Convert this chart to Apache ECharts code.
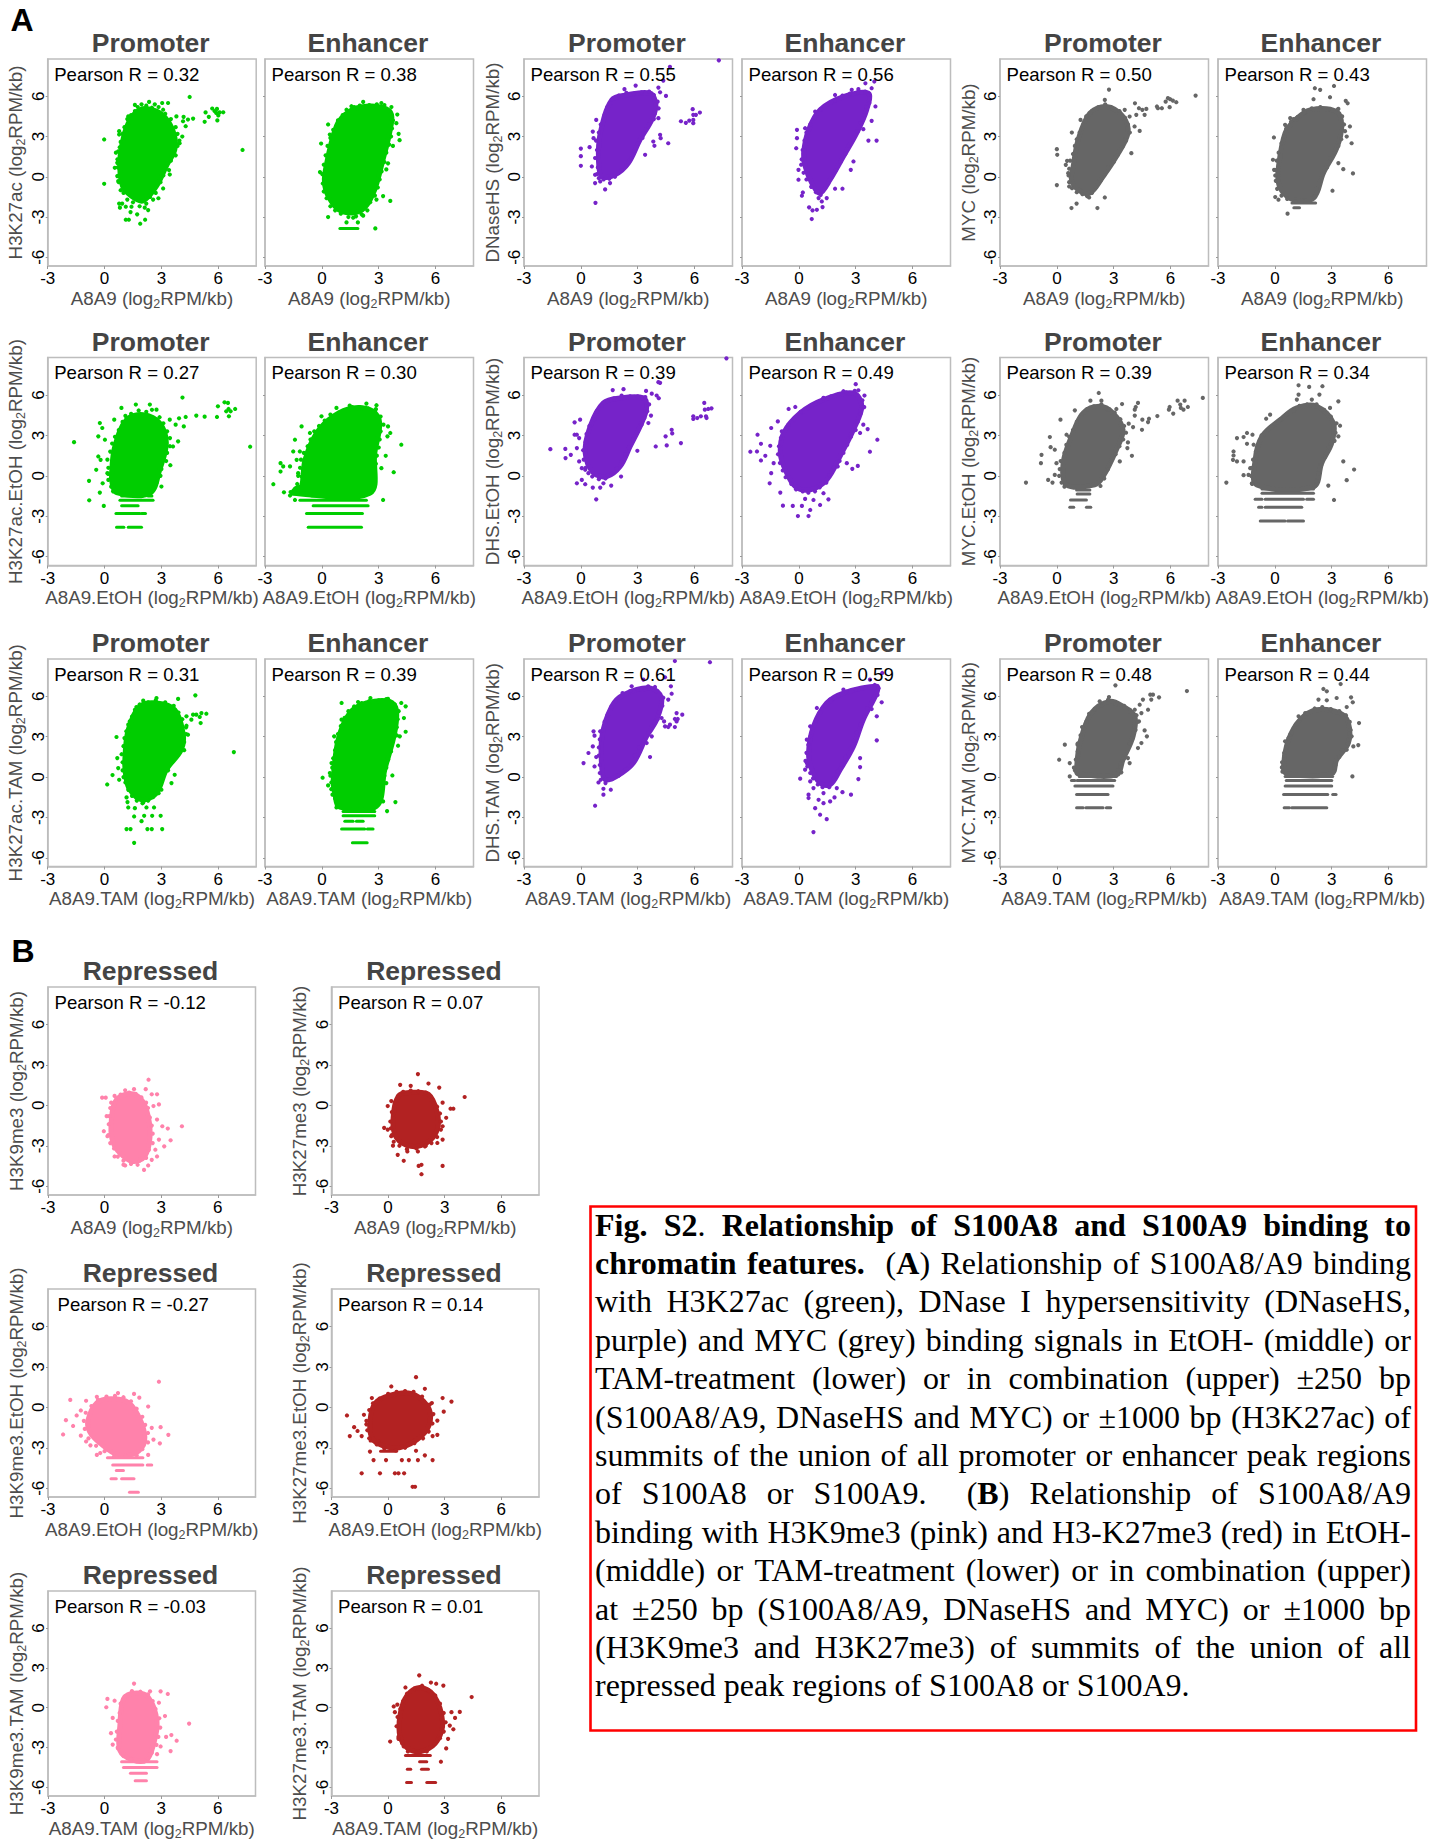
<!DOCTYPE html>
<html><head><meta charset="utf-8">
<style>html,body{margin:0;padding:0;background:#fff}#c{width:1441px;height:1841px}</style>
<script src="https://cdn.jsdelivr.net/npm/echarts@6/dist/echarts.min.js"></script>
</head><body><div id="c"></div>
<script>
// ---------- axis values ----------
const xTicks = [-3, 0, 3, 6];
const yTicks = [-6, -3, 0, 3, 6];
const xRange = [-3, 8];
const yRange = [-6.65, 8.78];

// ---------- panel A, row 1 ----------
const cloudA1 = [[1.86,5],[2.74,4.9],[3.35,4.15],[3.7,3],[3.7,2],[3.26,.8],[2.74,-.7],[2.03,-1.8],[1.42,-1.45],[.95,-.7],[.8,.8],[.9,2.3],[1.25,4]];
const edgeA1 = [[.85,2.6],[.95,3.2],[1.05,3.7],[1.2,4.3],[1.4,4.6],[1.6,4.9],[1.75,5.2],[2.2,5.3],[2.5,5.15],[2.85,5.2],[3.2,4.7],[3.5,4.3],[3.75,3.7],[3.85,3.2],[3.95,2.7],[3.85,2.3],[3.75,1.6],[3.5,1.2],[3.4,.5],[3.1,.1],[2.95,-.4],[2.7,-1.2],[2.4,-1.5],[2.2,-2],[1.85,-2.2],[1.5,-1.9],[1.2,-1.7],[1,-1.2],[.85,-1],[.75,-.4],[.75,.1],[.7,.7],[.68,1.3],[.72,1.9],[.8,2.2]];
const dotsA1 = [[4.49,5.95],[-.02,2.78],[-.02,-.52],[7.28,2],[5.28,4.1],[5.33,4.8],[5.5,4.47],[5.68,5.09],[5.93,5.06],[5.89,4.76],[6,4.57],[6.26,4.81],[5.95,4.2],[5.8,4.9],[6.07,4.8],[4.67,4.34],[4.4,4.27],[4.14,4.14],[4.28,3.77],[3.79,4.5],[4.17,4.47],[4.1,3],[3.96,2.5],[2.35,5.58],[3.04,5.5],[3.35,5.5],[1.6,5.36],[1.95,5.4],[2.65,5.4],[3.09,5],[1.25,4.5],[.77,3.4],[.77,3.15],[.6,1.8],[.54,.67],[.67,1.04],[.72,-.32],[.67,.05],[.77,-2],[.93,-2],[.81,-2.3],[1.12,-2.23],[1.42,-2.23],[1.12,-3.2],[1.28,-3.2],[1.88,-3.5],[2.14,-3.2],[1.72,-2.8],[1.37,-2.63],[2.12,-2.3],[2.3,-2.48],[2.56,-1.7],[2.84,-1.6],[3.09,-.87],[3.44,.17]];
const bandsA1 = [];
const cloudA2 = [[.16,.3],[.77,3.8],[1.47,4.9],[2.35,5.25],[3.23,5.15],[3.67,4.65],[3.58,3.3],[3.23,1.3],[2.79,-.95],[2.26,-2.3],[1.65,-2.7],[.86,-2.43],[.33,-1.44],[.16,-.7]];
const edgeA2 = [[.1,.9],[.2,1.6],[.3,2.3],[.45,2.9],[.6,3.5],[.85,4.2],[1.1,4.6],[1.3,5],[1.7,5.2],[2,5.3],[2.5,5.35],[2.9,5.4],[3.3,5.35],[3.6,4.9],[3.75,4.2],[3.7,3.6],[3.65,3],[3.55,2.4],[3.4,1.8],[3.3,1.1],[3.15,.4],[3.05,-.2],[2.95,-.8],[2.8,-1.4],[2.55,-1.9],[2.4,-2.5],[2.1,-2.8],[1.8,-2.95],[1.4,-3],[1,-2.75],[.7,-2.5],[.45,-2.2],[.25,-1.6],[.1,-1.1],[.05,-.5],[.02,.2]];
const dotsA2 = [[-.04,2.48],[-.1,.35],[.33,3.9],[.42,3.15],[.33,-3],[2.82,-3.85],[3.61,-1.8],[3.23,-1.44],[4.1,2.73],[4.05,3.2],[3.93,4],[3.98,4.64],[2.18,5.58],[3.14,5.5],[3.67,5.2],[1.56,5.26],[1.65,-3.05],[1.3,-3.4],[2.18,-2.9],[1.9,-3.4],[2.88,-1.7],[3.4,.55],[3.49,1],[3.75,2.3]];
const bandsA2 = [[-3.85,.95,1.9]];
const cloudA3 = [[.93,1.27],[1.02,3.25],[1.63,5.73],[2.42,6.1],[3.65,6.23],[3.96,5.36],[3.74,4.24],[3.12,2.75],[2.51,1.02],[1.81,.15],[1.1,.02]];
const edgeA3 = [[.9,.7],[.75,1.4],[.85,2],[.8,2.7],[.95,3.3],[1.05,3.9],[1.25,4.6],[1.4,5.2],[1.65,5.75],[2,6.05],[2.4,6.25],[2.8,6.2],[3.2,6.3],[3.6,6.35],[3.85,6.1],[4.05,5.6],[4.1,5.1],[3.9,4.7],[3.85,4.3],[3.6,3.9],[3.4,3.5],[3.25,2.9],[3,2.5],[2.8,1.9],[2.65,1.4],[2.4,.85],[2.15,.5],[1.8,0],[1.5,-.15],[1.2,-.2],[.95,-.1],[.85,.2]];
const dotsA3 = [[0,2.1],[0,1.54],[0,.82],[.77,-1.94],[1.28,-.94],[.75,-.47],[1.02,-.35],[1.54,-.47],[7.28,8.68],[4.7,8.2],[4.35,7.17],[4.09,6.65],[4.49,6.03],[4.18,6.3],[2.89,6.8],[2.3,6.53],[5.28,4.14],[5.54,4.02],[5.72,4.19],[5.9,5.04],[5.93,4.24],[5.93,4],[6.07,4.62],[6.28,4.79],[5.93,4.62],[4.61,2.5],[4.18,3.13],[4.21,2.88],[3.82,2.63],[3.88,2.31],[3.39,1.64],[.81,4.24],[.63,3.37],[.67,2.88],[.46,2.21],[.58,.77],[.75,.15],[4.09,4.37]];
const bandsA3 = [];
const cloudA4 = [[.25,1.76],[.51,3.5],[1.12,5],[2.35,5.98],[3.67,6.23],[3.58,5],[3.05,3.25],[2.35,1.51],[1.65,-.22],[1.12,-1.22],[.68,-.47],[.33,.77]];
const edgeA4 = [[.15,1.3],[.2,2],[.3,2.7],[.4,3.3],[.6,3.9],[.85,4.4],[1.15,5.05],[1.5,5.4],[1.9,5.7],[2.3,6.05],[2.7,6.2],[3.1,6.3],[3.5,6.35],[3.7,6.1],[3.72,5.5],[3.55,5.2],[3.45,4.6],[3.25,4],[3.1,3.4],[2.85,2.9],[2.6,2.3],[2.45,1.7],[2.2,1.1],[1.95,.5],[1.75,0],[1.55,-.5],[1.35,-.9],[1.15,-1.35],[.9,-1.15],[.65,-.75],[.4,-.2],[.25,.3],[.12,.9]];
const dotsA4 = [[3.51,6.97],[3.98,7.1],[3.84,6.6],[4.04,5.24],[3.84,4.17],[4.1,2.7],[3.67,2.7],[3.4,3.55],[2.88,1.14],[2.74,.52],[2.3,-.89],[1.91,-.89],[1.25,-2.26],[1.21,-1.84],[1.04,-1.59],[1.47,-1.59],[.68,-3.15],[.72,-2.5],[.95,-2.46],[.54,-2.28],[.16,-1.41],[.21,-1.17],[-.02,-.22],[-.02,.52],[-.14,2.13],[-.1,2.88],[-.1,3.5],[.33,3.62],[.86,4.86],[1.91,6.1],[2.79,6.48],[3.14,6.53]];
const bandsA4 = [];
const cloudA5 = [[.86,.77],[1.12,2.75],[1.74,4.74],[2.61,5.24],[3.49,4.49],[3.75,3.25],[3.14,1.51],[2.44,.02],[1.74,-1.22],[1.12,-.97],[.77,-.22]];
const edgeA5 = [[.65,.6],[.7,1.2],[.85,1.7],[.95,2.3],[1.05,2.8],[1.2,3.3],[1.4,3.9],[1.55,4.5],[1.85,4.9],[2.2,5.2],[2.55,5.4],[2.9,5.15],[3.3,4.9],[3.6,4.4],[3.75,3.9],[3.85,3.3],[3.65,2.7],[3.45,2.2],[3.2,1.6],[3,1.1],[2.7,.7],[2.5,.1],[2.3,-.3],[2.05,-.8],[1.85,-1.2],[1.6,-1.45],[1.35,-1.3],[1.05,-1.15],[.8,-.85],[.65,-.4],[.62,.1]];
const dotsA5 = [[0,2.06],[.02,1.64],[0,-.62],[.77,-2.33],[1.04,-2],[2.14,-2.33],[2.53,-1.54],[1.7,-1.54],[2.75,6.5],[2.53,5.73],[1.25,4.24],[.79,3.3],[.54,1.19],[.47,.89],[.6,.27],[.65,-.72],[7.32,6.05],[5.86,5.86],[5.98,5.78],[5.74,5.6],[6.3,5.56],[6.12,5.68],[5.95,5.19],[5.28,5.24],[5.54,5.11],[5.33,5.11],[4.72,5.06],[4.33,5.11],[4.51,4.99],[4.12,5.48],[4.19,4.62],[4.63,4.62],[4.37,3.42],[4.1,3.75],[3.93,1.76],[3.58,4.99],[3.84,4.49]];
const bandsA5 = [];
const cloudA6 = [[.19,.77],[.54,3.25],[1.07,4.24],[1.86,4.99],[3.26,4.86],[3.53,3.75],[3.26,2.13],[2.56,.27],[2.04,-1.59],[.98,-1.71],[.46,-1.22],[.19,-.47]];
const edgeA6 = [[.05,.5],[.1,1.2],[.2,1.8],[.35,2.5],[.5,3],[.6,3.6],[.85,4.1],[1.2,4.45],[1.55,4.8],[1.95,5.1],[2.4,5.2],[2.85,5.05],[3.3,5],[3.55,4.5],[3.65,3.9],[3.7,3.4],[3.5,2.8],[3.35,2.3],[3.15,1.8],[2.9,1.4],[2.75,.7],[2.5,.2],[2.35,-.3],[2.2,-.9],[2.1,-1.5],[1.6,-1.8],[1.1,-1.85],[.65,-1.65],[.35,-1.4],[.12,-.9],[.05,-.3],[.02,.1]];
const dotsA6 = [[.67,-2.75],[.02,-1.51],[.19,-1.71],[-.05,2.93],[-.1,1.27],[-.04,.52],[4.12,.25],[3.04,-1.04],[3.61,.57],[3.35,1.02],[4.05,2.5],[3.96,3.75],[3.79,3],[3.74,5.66],[3.84,5.48],[3.35,5.06],[2.11,6.6],[2.39,6.48],[3.12,6.77],[2.91,5.93],[2.04,5.78],[1.51,4.99],[.81,4.37],[.54,3.87],[.98,4.3]];
const bandsA6 = [[-1.95,.9,2.15],[-2.3,1,1.3]];

// ---------- panel A, row 2 ----------
const cloudA7 = [[.37,.2],[.54,2.18],[1.16,4.17],[2.04,4.54],[2.91,3.92],[3.26,2.43],[2.91,.45],[2.39,-1.29],[.63,-1.24],[.4,-.55]];
const edgeA7 = [[.2,.6],[.15,1.2],[.3,1.8],[.4,2.4],[.55,2.9],[.75,3.4],[.95,4],[1.1,4.45],[1.4,4.6],[1.8,4.85],[2.2,4.75],[2.5,4.9],[2.9,4.35],[3.1,3.9],[3.3,3.3],[3.45,2.8],[3.45,2.2],[3.3,1.7],[3.25,1.1],[3,.5],[2.95,0],[2.75,-.5],[2.55,-1],[.45,-1.15],[.35,-.8],[.2,-.3],[.15,.2]];
const dotsA7 = [[-1.61,2.5],[7.68,2.16],[-.82,-.37],[-.81,-1.81],[-.04,-2.23],[-.25,-1.24],[-.1,-.55],[-.44,.45],[-.33,1.44],[-.21,1.19],[-.33,2.93],[-.25,3.92],[-.12,3.55],[.02,2.68],[.19,.15],[.51,4.17],[.89,5.04],[1.65,5.29],[2.39,5.29],[2.74,4.91],[4.11,5.81],[3.44,4.17],[3.75,3.8],[3.93,4.27],[4.28,4.37],[4.18,3.67],[4.84,4.47],[5.28,4.39],[5.93,4.37],[5.98,5.16],[6.33,5.46],[6.51,5.41],[6.54,4.96],[6.65,4.79],[6.89,4.96],[6.56,4.42],[6.42,4.79],[3.47,.79],[3.88,2.56],[3.61,2.18],[3,-.79]];
const bandsA7 = [[-1.49,.9,1.4],[-1.49,1.6,2],[-1.49,2.3,2.5],[-1.81,.81,2.56],[-2.21,.9,1.77],[-2.8,.6,1.86],[-2.8,1.95,2.16],[-2.8,2.47,2.47],[-3.82,.16,.16],[-3.82,.63,1.02],[-3.82,1.25,1.95]];
const cloudA8 = [[-1.07,-.79],[-.89,1.19],[-.28,3.18],[.6,4.42],[1.65,5.04],[2.7,4.79],[3.05,3.92],[2.79,1.69],[2.53,-1.29],[-1.51,-1.29],[-1.33,-.92]];
const edgeA8 = [[-1.3,-.6],[-1.25,0],[-1.15,.6],[-1.1,1.2],[-.95,1.7],[-.75,2.2],[-.6,2.7],[-.4,3.3],[-.15,3.7],[.15,4.1],[.45,4.55],[.9,4.7],[1.2,4.85],[1.6,5.1],[2,5.1],[2.45,5],[2.85,4.95],[3.1,4.4],[3.25,3.8],[3.1,3.3],[3.05,2.7],[3,2.1],[2.9,1.5],[2.85,.9],[2.75,.3],[2.65,-.3],[2.65,-.9],[-1.65,-1.2],[-1.4,-.95]];
const dotsA8 = [[-2.56,-.62],[-2.18,.94],[-2.04,.7],[-2.18,.32],[-1.68,.7],[-2,-1.22],[-1.68,-1.46],[-1.42,-1.79],[-1.51,1.81],[-1.42,2.68],[-1.16,1.81],[-1.07,3.67],[-.63,3.18],[-1.33,1.19],[-1.25,.2],[-1.07,-.05],[-.02,4.42],[.77,5.04],[1.47,5.21],[2.35,5.36],[2.88,5.24],[3.49,3.67],[3.61,3.18],[3.46,2.93],[4.19,2.31],[3.79,.27],[3.37,1.49],[3.14,.57],[3.23,-1.79],[2.79,-.55]];
const bandsA8 = [[-1.49,-.54,2.18],[-1.81,-1.16,2.35],[-1.81,3.23,3.23],[-2.21,-.46,2.44],[-2.8,-1.1,-1.1],[-2.8,-.81,2.14],[-2.8,3,3],[-3.82,-.98,-.98],[-3.82,-.72,2.09],[-3.82,2.44,2.44]];
const cloudA9 = [[.23,1.69],[.49,3.67],[1.19,5.41],[2.07,5.78],[3.3,5.78],[3.47,5.04],[3.21,3.92],[2.6,2.18],[2.07,.69],[1.37,-.05],[.67,.2]];
const edgeA9 = [[.15,1.2],[.12,1.9],[.25,2.5],[.3,3.1],[.45,3.7],[.7,4.2],[.85,4.8],[1.1,5.2],[1.4,5.55],[1.75,5.75],[2.15,5.95],[2.6,5.9],[3,5.9],[3.4,5.85],[3.6,5.3],[3.5,4.8],[3.35,4.3],[3.2,3.8],[2.95,3.2],[2.75,2.7],[2.55,2.1],[2.35,1.6],[2.15,1.05],[1.9,.55],[1.6,.15],[1.3,-.2],[.95,-.25],[.6,-.05],[.4,.2],[.25,.6]];
const dotsA9 = [[-1.61,1.98],[-.82,2],[-.81,1.32],[-.53,1.56],[-.21,2.06],[-.33,3.05],[-.21,3.05],[-.09,2.8],[-.33,3.97],[-.04,4.17],[-.09,1.07],[.05,.57],[.23,.45],[-.21,-.55],[.05,-.3],[.23,-.62],[.63,-.87],[.81,-1.74],[1.02,-.87],[1.6,-.72],[1.19,-.55],[2.12,-.05],[2.98,1.86],[3.44,6.3],[2.25,6.43],[1.68,6.36],[7.68,8.72],[4.09,6.95],[4.18,6.9],[3.74,6.1],[4,5.96],[4.11,5.76],[3.7,4.47],[3.56,3.92],[4.79,3.42],[4.82,3.15],[4.47,2.93],[3.95,2.18],[4.53,2.26],[5.28,2.43],[5.93,4.42],[5.93,4.22],[6.14,4.29],[6.33,4.42],[6.51,5.41],[6.54,4.91],[6.72,4.96],[6.89,5.01],[6.63,4.29],[6.6,4.42]];
const bandsA9 = [];
const cloudA10 = [[-.98,1.69],[-.81,3.18],[.07,4.67],[1.3,5.66],[2.88,6.15],[3.32,5.16],[2.88,3.42],[2.26,1.69],[1.47,-.3],[.6,-1.04],[-.19,-.79],[-.72,.45]];
const edgeA10 = [[-1.1,1.6],[-1.05,2.2],[-.95,2.8],[-.9,3.3],[-.55,3.8],[-.25,4.2],[.1,4.75],[.5,5.05],[.9,5.4],[1.3,5.75],[1.7,5.9],[2.1,6.05],[2.5,6.2],[2.95,6.3],[3.35,5.6],[3.45,5.1],[3.25,4.6],[3.1,4],[3,3.4],[2.75,2.9],[2.55,2.3],[2.35,1.7],[2.15,1.1],[1.85,.6],[1.6,.05],[1.45,-.5],[1.1,-.85],[.85,-1.15],[.5,-1.25],[.2,-1.15],[-.15,-1],[-.4,-.6],[-.7,-.1],[-.85,.4],[-1,.95]];
const dotsA10 = [[-2.56,1.79],[-2.18,3.05],[-2.21,1.81],[-2,2.38],[-1.77,1.49],[-2,1.14],[-1.54,-.55],[-1.46,.2],[-1.33,.94],[-1.51,2.23],[-1.46,3.55],[-1.11,4.04],[-.54,4.96],[-.19,5.11],[-.98,-1.24],[-.84,-2.21],[-.32,-2.23],[-.05,-2.98],[.51,-2.98],[.6,-2.53],[.16,-2.23],[1.12,-2.16],[1.56,-1.74],[.77,-1.79],[.33,-1.71],[1.3,-1.29],[2.05,.69],[2.82,.52],[3.11,.74],[2.53,.94],[3,6.8],[3.14,6.35],[3.46,5.96],[3.4,5.11],[3.4,3.8],[3.63,3.47],[4.14,2.68],[3.75,1.79],[3.23,3.18],[2.35,6.28],[1.3,5.78]];
const bandsA10 = [];
const cloudA11 = [[.33,.94],[.77,2.93],[1.39,4.67],[2.26,5.16],[2.96,4.67],[3.49,3.42],[3.14,1.94],[2.44,-.05],[2,-.67],[.51,-.67]];
const edgeA11 = [[.15,.5],[.2,1.1],[.4,1.7],[.5,2.3],[.65,2.9],[.85,3.4],[1.05,4],[1.3,4.55],[1.6,4.95],[1.95,5.15],[2.35,5.3],[2.75,4.95],[3.05,4.7],[3.35,4.2],[3.55,3.7],[3.65,3.2],[3.5,2.7],[3.3,2.2],[3.1,1.6],[2.85,1.1],[2.7,.5],[2.5,-.2],[2.3,-.75],[.4,-.8],[.25,-.5],[.12,0]];
const dotsA11 = [[-1.63,-.5],[-.81,1.56],[-.84,.94],[-.37,2.88],[-.33,2.13],[-.11,1.94],[-.46,-.3],[-.23,-.5],[-.02,.94],[-.11,.07],[.19,4.17],[.51,3.05],[2.21,6.15],[1.77,5.58],[2.35,5.58],[.95,4.86],[3.44,5.33],[3.14,4.96],[4.11,4.91],[4.28,5.41],[4.16,5.11],[4.11,4.47],[3.79,3.87],[4.02,3.62],[4.51,4.17],[4.86,4.24],[4.81,3.99],[5.3,4.44],[4.49,3.42],[3.96,1.49],[3.75,2.48],[3.72,2.06],[3.32,1.07],[5.95,5.11],[5.91,4.91],[6.14,4.62],[6.37,5.58],[6.74,5.58],[6.51,5.29],[6.68,4.91],[6.91,5.11],[7.7,5.78],[6.54,5.04]];
const bandsA11 = [[-1.04,1.04,1.74],[-1.04,2.05,2.05],[-1.34,1.07,1.74],[-1.34,.6,.6],[-1.79,.72,1.56],[-2.33,.68,.89],[-2.33,1.09,1.09],[-2.33,1.3,1.3],[-2.33,1.56,1.79],[-2.33,-.02,-.02],[-3.35,1.25,1.25],[-3.35,1.56,1.56]];
const cloudA12 = [[-.95,-.67],[-1.04,1.19],[-.68,2.93],[.28,4.17],[1.16,5.04],[2.21,5.16],[3.09,3.92],[3,2.43],[2.47,.94],[2.04,-.79]];
const edgeA12 = [[-1.2,-.6],[-1.25,0],[-1.2,.6],[-1.15,1.2],[-1,1.8],[-.85,2.4],[-.7,3],[-.35,3.4],[0,3.85],[.3,4.2],[.6,4.55],[1,4.85],[1.3,5.2],[1.7,5.3],[2.2,5.3],[2.6,4.9],[2.95,4.4],[3.25,3.9],[3.2,3.2],[3.15,2.6],[2.85,2.1],[2.65,1.4],[2.45,.8],[2.3,.2],[2.2,-.4],[2.1,-.8]];
const dotsA12 = [[-2.56,-.5],[-2.18,1.81],[-2.18,1.51],[-2.21,1.19],[-2,1.07],[-2,2.8],[-1.65,2.88],[-1.47,3.18],[-1.47,2.38],[-1.65,1.07],[-1.65,.05],[-1.39,.07],[-1.3,.57],[-1.21,-.55],[-1.12,2.31],[-1.18,3.05],[-.46,4.24],[-.25,4.54],[1.25,6.72],[1.81,6.6],[2.51,6.65],[1.25,6.03],[2.35,6.03],[1.95,5.66],[1.16,5.66],[3.35,5.53],[2.91,5.04],[3.44,3.72],[3.35,2.93],[4.18,.47],[3.79,-.32],[3.61,1.07],[2.82,-.72],[3.12,-1.79]];
const bandsA12 = [[-.97,-.68,2.04],[-1.29,-.68,2.04],[-1.29,2.26,2.26],[-1.74,-1.04,-.68],[-1.74,-.51,1.51],[-1.74,1.68,2.04],[-2.33,-.86,-.68],[-2.33,-.51,1.42],[-3.35,-.77,.54],[-3.35,.67,1.51]];

// ---------- panel A, row 3 ----------
const cloudA13 = [[1.07,1.29],[1.25,3.52],[1.86,5.26],[2.74,5.51],[3.7,5.01],[4.14,3.28],[4.05,2.03],[3.26,.55],[2.74,-1.19],[1.95,-1.69],[1.33,-.94],[1.12,.05]];
const edgeA13 = [[.95,.5],[.95,1.1],[.9,1.7],[1,2.3],[1.05,2.9],[1.15,3.4],[1.25,3.9],[1.45,4.5],[1.6,5],[1.85,5.4],[2.3,5.55],[2.7,5.7],[3.2,5.55],[3.65,5.3],[3.9,4.8],[4.1,4.3],[4.3,3.7],[4.3,3.2],[4.2,2.6],[4.2,2],[3.85,1.6],[3.55,1.1],[3.35,.5],[3.1,.1],[2.95,-.5],[2.85,-1.2],[2.55,-1.5],[2.3,-1.75],[2,-1.95],[1.7,-1.75],[1.45,-1.4],[1.25,-.95],[1.1,-.4],[1,0]];
const dotsA13 = [[.14,-.55],[.42,.15],[.77,-.2],[.72,.67],[.63,2.98],[.67,1.41],[1.56,-4.89],[1.16,-3.87],[1.37,-3.87],[2.26,-3.87],[2.49,-3.87],[3.04,-3.87],[1.95,-3.28],[1.56,-2.93],[2.09,-2.88],[2.51,-2.88],[2.96,-2.88],[1.6,-2.31],[2.21,-2.26],[2.61,-2.26],[1.25,-2.26],[1.21,-1.86],[1.16,-1.51],[2.04,-1.89],[3,-.94],[3.53,-.45],[3.7,.17],[6.82,1.86],[4.79,6.08],[3.88,5.81],[2.74,5.88],[2.04,5.68],[1.68,5.21],[1.33,4.14],[5.37,4.71],[5.11,4.76],[5.02,4.47],[4.84,4.64],[5.07,4.02],[4.58,4.27],[4.32,3.82],[4.67,4.64],[4.32,4.52],[4.4,3.15]];
const bandsA13 = [];
const cloudA14 = [[.6,-.2],[.86,2.78],[1.47,4.76],[2.35,5.51],[3.58,5.63],[3.93,5.01],[3.84,3.28],[3.32,.55],[2.88,-2.18],[.95,-2.23],[.68,-1.19]];
const edgeA14 = [[.45,.1],[.55,.7],[.6,1.4],[.7,2],[.75,2.6],[.85,3.2],[1,3.8],[1.2,4.4],[1.4,4.9],[1.7,5.25],[2.1,5.5],[2.5,5.65],[3,5.7],[3.4,5.8],[3.85,5.4],[4.05,4.9],[4,4.3],[3.95,3.7],[3.95,3.1],[3.7,2.5],[3.65,1.9],[3.5,1.3],[3.4,.7],[3.3,.1],[3.2,-.6],[3.05,-1.3],[2.95,-1.9],[.8,-2.1],[.7,-1.6],[.5,-.9],[.5,-.4]];
const dotsA14 = [[.04,-.05],[.33,-.62],[.56,-1.31],[.77,-2.26],[3.44,-2.53],[3.88,-1.86],[3.23,-1.81],[3.72,.12],[3.4,-.45],[1.04,5.51],[1.91,5.58],[2.56,5.88],[3.49,5.81],[4.19,5.51],[4.42,5.26],[4.33,4.39],[4.42,3.37],[4.11,3.03],[4.02,2.33],[1.04,4.27],[.65,3.03],[.51,1.04],[.42,.3]];
const bandsA14 = [[-2.56,1.12,2.79],[-2.88,1.12,2.79],[-3.28,1.21,1.65],[-3.28,1.82,2.18],[-3.28,2.44,2.44],[-3.87,1.04,2.26],[-3.87,2.4,2.7],[-3.87,3.05,3.05],[-4.89,.39,.39],[-4.89,1.02,1.02],[-4.89,1.39,1.39],[-4.89,1.61,2.39]];
const cloudA15 = [[1.11,.55],[1.11,3.03],[1.63,5.26],[2.25,6.13],[3.65,6.63],[4.26,5.88],[4,4.27],[3.47,3.03],[2.77,1.04],[1.89,.05],[1.28,-.2]];
const edgeA15 = [[1,.9],[.95,1.6],[.95,2.2],[1,2.8],[1.15,3.5],[1.25,4.1],[1.4,4.6],[1.6,5.2],[1.85,5.65],[2.2,6.25],[2.6,6.4],[3,6.5],[3.55,6.75],[4,6.4],[4.35,5.9],[4.3,5.3],[4.1,4.8],[4.05,4.3],[3.75,3.8],[3.55,3.3],[3.3,2.7],[3.05,2.2],[2.85,1.6],[2.7,.95],[2.4,.6],[2,.1],[1.65,-.15],[1.3,-.45],[1.05,-.2],[1,.3]];
const dotsA15 = [[.75,-2.13],[1.19,-1.31],[1.19,-.87],[1.58,-.94],[.93,-.4],[1.28,-.2],[.14,1.04],[.4,1.79],[.72,.79],[.63,2.28],[.67,3.4],[.72,3.08],[1.02,3.4],[.81,1.49],[3.65,1.49],[3.47,2.53],[3.74,3.03],[4.96,8.63],[6.81,8.54],[3.3,7.25],[4.44,7.42],[4.75,6.75],[4.79,6.2],[4.61,5.76],[2.68,6.75],[3.39,6.5],[3.91,6.7],[4.26,4.39],[4.39,4.14],[4.44,3.77],[4.7,3.9],[4.61,3.72],[4.96,3.72],[5.05,4.76],[4.96,4.32],[5.11,4.32],[5.35,4.64],[5.05,4.14]];
const bandsA15 = [];
const cloudA16 = [[.51,1.79],[.77,3.77],[1.47,5.51],[2.35,6.25],[4.11,6.75],[4.11,6.25],[3.4,4.27],[2.88,2.28],[2.18,.55],[1.65,-.57],[1.12,-.45],[.68,.55]];
const edgeA16 = [[.35,1.2],[.4,1.8],[.5,2.4],[.6,3],[.7,3.6],[.9,4.2],[1.15,4.8],[1.4,5.3],[1.7,5.65],[2.1,6.05],[2.5,6.35],[3,6.5],[3.5,6.65],[4,6.85],[4.2,6.6],[4.15,6.1],[3.85,5.6],[3.6,5.1],[3.45,4.5],[3.25,3.9],[3.05,3.3],[2.9,2.7],[2.7,2.1],[2.45,1.5],[2.25,.95],[2.05,.4],[1.85,-.1],[1.6,-.75],[1.25,-.75],[1,-.55],[.75,-.1],[.6,.3],[.45,.8]];
const dotsA16 = [[.77,-4.09],[1.47,-3.13],[1.12,-2.8],[.86,-2.31],[.51,-1.31],[.51,-1.56],[1.04,-1.69],[1.3,-1.94],[1.65,-1.81],[1.88,-1.51],[2.3,-1.12],[2.75,-1.31],[2,-.82],[1.3,-1.19],[.77,-.82],[.07,-.12],[.6,-.32],[.33,.55],[.42,1.04],[.42,2.78],[.6,3.77],[.95,5.14],[1.65,5.76],[2.35,6.5],[3.75,7.25],[4.4,7.74],[4.37,5.56],[4.11,2.73],[4.11,4.52],[3.84,5.06],[3.23,.74],[3.23,1.41],[3.14,-.15]];
const bandsA16 = [];
const cloudA17 = [[1.04,.55],[1.21,2.53],[1.82,4.76],[2.79,5.63],[3.49,5.26],[4.11,4.52],[4.02,3.03],[3.49,1.29],[3.14,.17],[1.12,.25]];
const edgeA17 = [[.9,.7],[1,1.3],[1.1,1.9],[1.1,2.5],[1.25,3.1],[1.4,3.6],[1.55,4.1],[1.7,4.7],[2,5.05],[2.35,5.3],[2.7,5.75],[3.1,5.4],[3.55,5.3],[3.85,5],[4.2,4.6],[4.25,4.1],[4.15,3.5],[4,2.9],[3.85,2.5],[3.7,1.9],[3.55,1.4],[3.35,1],[3.25,.5],[3.05,.3]];
const dotsA17 = [[.12,1.29],[.42,2.41],[.68,1.04],[.68,.05],[.95,.5],[1.09,2.41],[1.33,3.72],[2.26,5.63],[2.75,5.95],[3.09,6.82],[6.86,6.4],[4.93,6.13],[5.07,6.13],[5.39,5.93],[4.98,5.76],[4.54,5.76],[4.37,5.38],[4.81,5.01],[4.46,4.76],[4.11,5.01],[4.33,4.14],[4.63,3.47],[4.75,3.03],[4.46,2.53],[4.28,2.16],[3.84,1.04],[3.75,1.41],[3.4,.35]];
const bandsA17 = [[.05,1.18,3.14],[-.25,.77,.95],[-.25,1.07,3.05],[-.25,3.28,3.28],[-.67,.95,2.96],[-.67,.63,.63],[-1.29,1.04,2.7],[-2.28,.77,.77],[-2.28,1.04,1.39],[-2.28,1.53,2.44],[-2.28,2.61,2.84]];
const cloudA18 = [[.46,.79],[.72,2.78],[1.33,4.27],[2.21,5.01],[3.44,4.76],[3.88,4.02],[3.88,2.53],[3.26,1.29],[3,.25],[.63,.25]];
const edgeA18 = [[.4,.4],[.38,1.1],[.5,1.6],[.6,2.2],[.72,2.9],[.9,3.3],[1.1,3.9],[1.35,4.35],[1.7,4.75],[2.1,5.1],[2.5,5.2],[2.95,5.05],[3.4,4.9],[3.75,4.6],[3.95,4.1],[4,3.5],[3.95,3],[3.85,2.5],[3.55,2],[3.4,1.5],[3.2,.9],[3.1,.4]];
const dotsA18 = [[4.09,.05],[4.4,2.38],[4.44,4.02],[4.05,3.03],[4.14,2.28],[3.79,2.03],[3.47,6.92],[2.56,6.55],[2.74,6.38],[4.02,5.93],[4.11,5.56],[3.26,5.88],[2.3,5.76],[2.74,5.71],[3.79,5.21],[1.6,4.76],[1.25,4.52],[.81,3.15],[.54,2.66],[.49,1.79],[.37,.72]];
const bandsA18 = [[.05,.54,3.05],[-.25,.37,.37],[-.25,.6,3],[-.25,3.23,3.23],[-.67,.05,.05],[-.67,.37,.37],[-.67,.54,3],[-1.29,.46,2.79],[-1.29,3.05,3.23],[-2.28,.49,.77],[-2.28,.89,2.74],[-2.28,3.11,3.11]];

// ---------- panel B ----------
const cloudB1 = [[.34,-1.55],[.53,.2],[1.09,.82],[1.75,.7],[2.22,-.3],[2.41,-2.29],[2.12,-3.79],[1.47,-4.16],[.81,-3.54],[.43,-2.67]];
const edgeB1 = [[.25,-.8],[.3,-.2],[.35,.2],[.6,.4],[.85,.8],[1.3,.95],[1.65,.85],[1.95,.6],[2.2,.2],[2.3,-.2],[2.4,-.9],[2.5,-1.5],[2.55,-2.1],[2.55,-2.8],[2.35,-3.3],[2.2,-3.9],[1.85,-4.1],[1.4,-4.35],[1,-4.1],[.7,-3.8],[.5,-3.2],[.3,-2.8],[.2,-2.2],[.22,-1.4]];
const dotsB1 = [[-.13,.57],[.06,.57],[1.09,1.12],[1.56,1.2],[2.18,1.2],[2.33,1.9],[2.78,.82],[2.88,.07],[2.59,-.05],[2.78,-1.05],[3.06,-1.55],[3.35,-1.72],[4.1,-1.55],[3.5,-2.59],[3.16,-3.04],[2.88,-2.54],[2.69,-3.29],[2.78,-3.79],[2.5,-4.04],[2.31,-4.46],[2.09,-4.79],[1.75,-4.41],[1.09,-4.46],[.53,-3.79],[1,-4.41],[-.04,-1.92],[.15,-2.29],[.11,-.8],[.53,.7],[2.5,.82]];
const bandsB1 = [];
const cloudB2 = [[.26,-1.05],[.55,.7],[1.2,.95],[2.14,.82],[2.61,-.55],[2.61,-1.8],[2.05,-2.79],[1.2,-3.04],[.45,-2.42]];
const edgeB2 = [[.12,-1.2],[.2,-.5],[.35,.2],[.55,.6],[.8,1],[1.2,1.1],[1.6,1.05],[2,.95],[2.3,.4],[2.6,-.1],[2.75,-.6],[2.8,-1.2],[2.8,-1.8],[2.6,-2.35],[2.3,-2.8],[2,-3],[1.5,-3.2],[1,-3.25],[.6,-3],[.3,-2.7],[.2,-2.2],[.15,-1.7]];
const dotsB2 = [[1.58,2.32],[2.14,1.62],[2.71,1.32],[.64,1.52],[1.2,1.45],[4.06,.62],[3.46,-.25],[3.31,-.25],[2.89,.2],[3.08,-.92],[2.89,-1.55],[2.89,-2.54],[2.61,-2.79],[2.89,-4.49],[1.77,-4.41],[1.62,-4.49],[1.77,-5.11],[.83,-4.11],[.51,-3.67],[1.02,-3.42],[1.95,-3.04],[-.21,-1.67],[-.02,-1.8],[.17,-2.29],[.26,-2.99],[-.02,-.05],[.17,.32],[.26,-.67],[1.58,-3.42]];
const bandsB2 = [];
const cloudB3 = [[-.88,-.95],[-.41,.34],[.34,.63],[1.28,.34],[1.94,-1.09],[2.12,-2.53],[1.65,-3.39],[.71,-3.53],[-.23,-2.67],[-.79,-1.81]];
const edgeB3 = [[-1.1,-1],[-1,-.4],[-.7,.1],[-.35,.55],[.1,.8],[.55,.85],[1,.75],[1.4,.45],[1.7,-.1],[2,-.7],[2.15,-1.3],[2.3,-1.9],[2.3,-2.6],[2,-3.1],[1.7,-3.55],[1.1,-3.6],[.5,-3.65],[0,-3.25],[-.45,-2.85],[-.85,-2.3],[-1.05,-1.6]];
const dotsB3 = [[-2.2,-2.01],[-2.05,-.95],[-1.82,.55],[-1.67,-1.38],[-1.48,-.6],[-1.26,-.23],[-.98,.49],[-1.26,-2.1],[-.98,-2.53],[-.75,-2.82],[-.41,-3.53],[-.23,-3.39],[-.41,.78],[.71,1.06],[1.56,1],[1.84,.72],[2.31,.06],[2.88,1.9],[2.97,-1.47],[3.38,-2.04],[2.93,-2.67],[2.5,-1.52],[2.59,-2.39],[2.31,-3.53]];
const bandsB3 = [[-3.74,.15,2.03],[-4.28,.43,2.03],[-4.28,2.26,2.5],[-4.28,-.38,-.38],[-4.28,.15,.15],[-4.68,.62,1],[-4.68,1.98,1.98],[-5.29,0,0],[-5.29,.34,.62],[-5.29,.9,1.56],[-5.29,2.18,2.18],[-6.29,-1.02,-1.02],[-6.29,.9,.9],[-6.29,1.32,1.79]];
const cloudB4 = [[-.96,-.98],[-.68,.32],[.08,.89],[1.2,1.03],[2.05,.17],[2.24,-.98],[1.77,-2.13],[.64,-2.99],[-.3,-2.84],[-.86,-2.27]];
const edgeB4 = [[-1.15,-1],[-1,-.2],[-.8,.3],[-.45,.65],[0,1],[.45,1.15],[.9,1.2],[1.35,1.15],[1.8,.8],[2.2,.2],[2.4,-.5],[2.35,-1.2],[2.15,-1.8],[1.85,-2.3],[1.4,-2.65],[.9,-3],[.4,-3.2],[-.2,-3.05],[-.6,-2.75],[-1,-2.3],[-1.1,-1.7]];
const dotsB4 = [[-2.18,-.6],[-2.03,-2.13],[-1.8,-1.47],[-1.62,-1.75],[-1.4,-2.13],[-1.28,-.55],[-1.15,-1.26],[-1.4,-4.89],[-.43,-4.89],[.36,-4.89],[.55,-4.89],[.85,-4.89],[1.3,-5.89],[1.43,-5.89],[1.48,2.24],[.17,1.55],[1.95,1.38],[3.36,.43],[2.89,.69],[2.95,-.32],[2.61,-.98],[2.61,-2.04],[2.36,-2.13],[2.32,.32],[-.86,.69],[-.96,-3.28],[-.77,-3.91],[-.11,-3.91],[.73,-3.91],[1.1,-3.91],[1.58,-3.91],[2.36,-3.91],[1.95,-3.56],[1.48,-3.22]];
const bandsB4 = [[-3.25,-.4,.45],[-2.5,-.95,-.5]];
const cloudB5 = [[.81,-1.35],[1,.66],[1.56,1.09],[2.31,.8],[2.78,-1.06],[2.59,-2.78],[2.22,-3.93],[1.47,-3.93],[.81,-3.21]];
const edgeB5 = [[.65,-1.8],[.7,-1],[.8,-.4],[.85,.3],[1.1,.85],[1.45,1.25],[1.9,1.2],[2.3,1],[2.55,.5],[2.7,-.1],[2.9,-.8],[2.95,-1.5],[2.85,-2.2],[2.75,-2.8],[2.5,-3.4],[2.3,-3.85],[1.4,-3.9],[1,-3.5],[.7,-3],[.6,-2.4]];
const dotsB5 = [[1.56,1.81],[.15,.66],[.09,.03],[.53,.52],[.43,-.77],[.34,-1.92],[.43,-2.78],[.71,-3.07],[1,-3.64],[2.41,1.23],[2.97,1.23],[3.35,1.03],[2.88,.37],[3.2,-.63],[4.48,-1.2],[3.82,-2.49],[3.54,-2.06],[3.26,-2.2],[3.5,-3.27],[2.97,-2.92],[2.78,-3.5]];
const bandsB5 = [[-4.07,.9,2.78],[-4.5,1,2.78],[-4.93,1.37,2.22],[-5.5,1.32,1.32],[-5.5,1.62,2.22],[-5.5,2.59,2.59],[-6.5,1.62,1.62],[-6.5,2.59,2.59]];
const cloudB6 = [[.64,-.49],[1.02,.95],[1.67,1.52],[2.42,.95],[2.89,-1.06],[2.61,-2.49],[1.95,-3.21],[1.2,-3.21],[.64,-2.21]];
const edgeB6 = [[.45,-1.4],[.5,-.7],[.65,-.1],[.8,.5],[1,1.05],[1.4,1.45],[1.8,1.65],[2.15,1.3],[2.5,.9],[2.75,.3],[2.95,-.4],[3.05,-1.1],[2.95,-1.8],[2.75,-2.3],[2.45,-2.75],[2.05,-3.3],[1.5,-3.4],[1.05,-3.3],[.75,-2.7],[.55,-2.2]];
const dotsB6 = [[1.65,2.43],[2.27,1.89],[2.55,1.8],[2.93,1.66],[4.43,.8],[3.8,-.32],[3.36,-.34],[3.55,-.77],[3.27,-1.35],[3.46,-1.63],[3.08,-3.07],[3.18,-2.35],[2.8,-4.07],[.11,-2.55],[.55,-2.35],[.83,-2.92],[.3,.09],[.36,-.34],[.49,.23],[.92,1.52]];
const bandsB6 = [[-3.61,.92,2.24],[-4.07,1.67,2.05],[-4.64,1.02,1.2],[-4.64,1.77,2.14],[-5.64,.58,.58],[-5.64,.98,1.24],[-5.64,1.68,1.68],[-5.64,2.05,2.52],[-5.64,3.21,3.21]];

// ---------- labels ----------
const pearsonA = ['0.32','0.38','0.55','0.56','0.50','0.43','0.27','0.30','0.39','0.49','0.39','0.34','0.31','0.39','0.61','0.59','0.48','0.44'];
const pearsonB = ['-0.12','0.07','-0.27','0.14','-0.03','0.01'];
const xNamesA = ['A8A9','A8A9.EtOH','A8A9.TAM'];
const yNamesA = [['H3K27ac','DNaseHS','MYC'],['H3K27ac.EtOH','DHS.EtOH','MYC.EtOH'],['H3K27ac.TAM','DHS.TAM','MYC.TAM']];
const yNamesB = [['H3K9me3','H3K27me3'],['H3K9me3.EtOH','H3K27me3.EtOH'],['H3K9me3.TAM','H3K27me3.TAM']];
const captionLines = [
 '*Fig. S2*. *Relationship of S100A8 and S100A9 binding to*',
 '*chromatin features.*  (*A*) Relationship of S100A8/A9 binding',
 'with H3K27ac (green), DNase I hypersensitivity (DNaseHS,',
 'purple) and MYC (grey) binding signals in EtOH- (middle) or',
 'TAM-treatment (lower) or in combination (upper) ±250 bp',
 '(S100A8/A9, DNaseHS and MYC) or ±1000 bp (H3K27ac) of',
 'summits of the union of all promoter or enhancer peak regions',
 'of S100A8 or S100A9.  (*B*) Relationship of S100A8/A9',
 'binding with H3K9me3 (pink) and H3-K27me3 (red) in EtOH-',
 '(middle) or TAM-treatment (lower) or in combination (upper)',
 'at ±250 bp (S100A8/A9, DNaseHS and MYC) or ±1000 bp',
 '(H3K9me3 and H3K27me3) of summits of the union of all',
 'repressed peak regions of S100A8 or S100A9.'
];

// ---------- layout and style ----------
const SANS = '"Liberation Sans", Arial, sans-serif';
const SERIF = '"Liberation Serif", "Times New Roman", serif';
const GREEN='#00cd00', PURPLE='#7623c9', GREY='#666666', PINK='#ff82ab', RED='#b22222';
const colA = [47.7,265,524,742,1000,1218], W=208.5;
const rowA = [[59,207],[357.5,208],[659,207.5]];
const colB = [48,331.5];
const rowB = [[987,208],[1289,208],[1591,208]];

const panelDefs = [];
const ALL = {cloudA1,edgeA1,dotsA1,bandsA1,cloudA2,edgeA2,dotsA2,bandsA2,cloudA3,edgeA3,dotsA3,bandsA3,cloudA4,edgeA4,dotsA4,bandsA4,cloudA5,edgeA5,dotsA5,bandsA5,cloudA6,edgeA6,dotsA6,bandsA6,cloudA7,edgeA7,dotsA7,bandsA7,cloudA8,edgeA8,dotsA8,bandsA8,cloudA9,edgeA9,dotsA9,bandsA9,cloudA10,edgeA10,dotsA10,bandsA10,cloudA11,edgeA11,dotsA11,bandsA11,cloudA12,edgeA12,dotsA12,bandsA12,cloudA13,edgeA13,dotsA13,bandsA13,cloudA14,edgeA14,dotsA14,bandsA14,cloudA15,edgeA15,dotsA15,bandsA15,cloudA16,edgeA16,dotsA16,bandsA16,cloudA17,edgeA17,dotsA17,bandsA17,cloudA18,edgeA18,dotsA18,bandsA18,cloudB1,edgeB1,dotsB1,bandsB1,cloudB2,edgeB2,dotsB2,bandsB2,cloudB3,edgeB3,dotsB3,bandsB3,cloudB4,edgeB4,dotsB4,bandsB4,cloudB5,edgeB5,dotsB5,bandsB5,cloudB6,edgeB6,dotsB6,bandsB6};

for (let r=0;r<3;r++) for (let c=0;c<6;c++){
  const k=r*6+c+1;
  panelDefs.push({id:'A'+k,left:colA[c],top:rowA[r][0],w:W,h:rowA[r][1],title:c%2?'Enhancer':'Promoter',
    r:pearsonA[k-1],rx:6.5,x:xNamesA[r],y:yNamesA[r][Math.floor(c/2)],color:[GREEN,PURPLE,GREY][Math.floor(c/2)],yTitle:c%2===0});
}
for (let r=0;r<3;r++) for (let c=0;c<2;c++){
  const k=r*2+c+1;
  panelDefs.push({id:'B'+k,left:colB[c],top:rowB[r][0],w:W-1,h:rowB[r][1],title:'Repressed',
    r:pearsonB[k-1],rx:(k===3?9.5:6.5),x:xNamesA[r],y:yNamesB[r][c],color:[PINK,RED][c],yTitle:true});
}

const rich = {
  a:{fontFamily:SANS,fontSize:18.8,color:'#4d4d4d',lineHeight:24},
  s:{fontFamily:SANS,fontSize:12.5,color:'#4d4d4d',lineHeight:24,verticalAlign:'bottom'}
};
const axisName = n => '{a|'+n+' (log}{s|2}{a|RPM/kb)}';
const grids=[],xAxes=[],yAxes=[],series=[],titles=[];

panelDefs.forEach((p,i)=>{
  grids.push({left:p.left,top:p.top,width:p.w,height:p.h,show:true,borderColor:'#bdbdbd',borderWidth:1.5,backgroundColor:'#fff',containLabel:false});
  const tickLabel={fontFamily:SANS,fontSize:17,color:'#000',alignMinLabel:'center',alignMaxLabel:'center'};
  xAxes.push({gridIndex:i,type:'value',min:xRange[0],max:xRange[1],name:axisName(p.x),nameLocation:'middle',nameGap:20,nameMoveOverlap:false,
    nameTextStyle:{rich},splitLine:{show:false},
    axisLine:{onZero:false,lineStyle:{color:'#bdbdbd',width:1.5}},
    axisTick:{length:3,lineStyle:{color:'#999'},customValues:xTicks},
    axisLabel:{...tickLabel,margin:4,customValues:xTicks}});
  yAxes.push({gridIndex:i,type:'value',min:yRange[0],max:yRange[1],name:p.yTitle?axisName(p.y):'',nameLocation:'middle',nameGap:20,nameMoveOverlap:false,
    nameTextStyle:{rich},splitLine:{show:false},
    axisLine:{onZero:false,lineStyle:{color:'#bdbdbd',width:1.5}},
    axisTick:{length:2,lineStyle:{color:'#999'},customValues:yTicks},
    axisLabel:{...tickLabel,show:p.yTitle,rotate:90,margin:1,customValues:yTicks}});
  const cloud=ALL['cloud'+p.id], edge=ALL['edge'+p.id], dots=ALL['dots'+p.id], bands=ALL['bands'+p.id];
  const common={xAxisIndex:i,yAxisIndex:i,silent:true,animation:false};
  series.push({...common,type:'custom',name:p.id+' cloud',data:cloud,clip:false,
    renderItem:(params,api)=>{
      if(params.dataIndex!==0) return null;
      return {type:'polygon',shape:{points:cloud.map(q=>api.coord(q)),smooth:0.35},
        style:{fill:p.color,stroke:p.color,lineWidth:5,lineJoin:'round'}};
    }});
  if(bands.length) series.push({...common,type:'custom',name:p.id+' bands',data:bands,clip:false,
    encode:{x:[1,2],y:0},
    renderItem:(params,api)=>{
      const a=api.coord([api.value(1),api.value(0)]), b=api.coord([api.value(2),api.value(0)]);
      return {type:'line',shape:{x1:a[0],y1:a[1],x2:b[0],y2:b[1]},
        style:{stroke:p.color,lineWidth:3,lineCap:'round'}};
    }});
  series.push({...common,type:'scatter',name:p.id+' dots',data:dots.concat(edge),symbol:'circle',symbolSize:4.2,itemStyle:{color:p.color,opacity:1},clip:false});
  titles.push({text:p.title,left:p.left+p.w/2-1.3,top:p.top-29.5,textAlign:'center',padding:0,
    textStyle:{fontFamily:SANS,fontSize:26.5,fontWeight:'bold',color:'#444444',lineHeight:27}});
  titles.push({text:'Pearson R = '+p.r,left:p.left+p.rx,top:p.top+5,padding:0,z:20,
    textStyle:{fontFamily:SANS,fontSize:18.6,fontWeight:'normal',color:'#000',lineHeight:20}});
});

// panel letters
const letters=[{t:'A',x:10.5,y:20},{t:'B',x:11.5,y:951}];
const graphics=letters.map(l=>({type:'text',x:l.x,y:l.y,style:{text:l.t,fontFamily:SANS,fontSize:32,fontWeight:'bold',fill:'#000',verticalAlign:'middle'}}));

// caption box
const box={x:590.5,y:1206.5,w:825.5,h:524};
graphics.push({type:'rect',shape:{x:box.x,y:box.y,width:box.w,height:box.h},style:{fill:'#fff',stroke:'#ff0000',lineWidth:2.6}});
const capLeft=595, capRight=1411, capTop=1224.5, capPitch=38.4, capSize=32;
const mctx=document.createElement('canvas').getContext('2d');
const fontOf=b=>(b?'bold ':'')+capSize+'px '+SERIF;
const measure=(t,b)=>{mctx.font=fontOf(b);return mctx.measureText(t).width;};
captionLines.forEach((line,li)=>{
  let bold=false;
  const parts=line.split(' ');
  const words=[];let gaps=0;
  parts.forEach(w=>{
    if(w===''){gaps+=1;return;}
    const runs=[];let cur='';
    for(const ch of w){
      if(ch==='*'){if(cur)runs.push({t:cur,b:bold});cur='';bold=!bold;}
      else cur+=ch;
    }
    if(cur)runs.push({t:cur,b:bold});
    words.push({runs,gapBefore:words.length?(gaps+1):0,width:runs.reduce((s,r)=>s+measure(r.t,r.b),0)});
    gaps=0;
  });
  const total=words.reduce((s,w)=>s+w.width,0);
  const units=words.reduce((s,w)=>s+w.gapBefore,0);
  const last=li===captionLines.length-1;
  const unit=last?capSize*0.25:(capRight-capLeft-total)/units;
  let x=capLeft;
  words.forEach(w=>{
    x+=w.gapBefore*unit;
    w.runs.forEach(r=>{
      graphics.push({type:'text',x,y:capTop+li*capPitch,style:{text:r.t,fontFamily:SERIF,fontSize:capSize,fontWeight:r.b?'bold':'normal',fill:'#000',verticalAlign:'middle'}});
      x+=measure(r.t,r.b);
    });
  });
});

const chart=echarts.init(document.getElementById('c'),null,{renderer:'svg',width:1441,height:1841});
chart.setOption({animation:false,backgroundColor:'#fff',tooltip:{show:false},legend:{show:false},
  title:titles,grid:grids,xAxis:xAxes,yAxis:yAxes,series,graphic:{elements:graphics}});
</script></body></html>
